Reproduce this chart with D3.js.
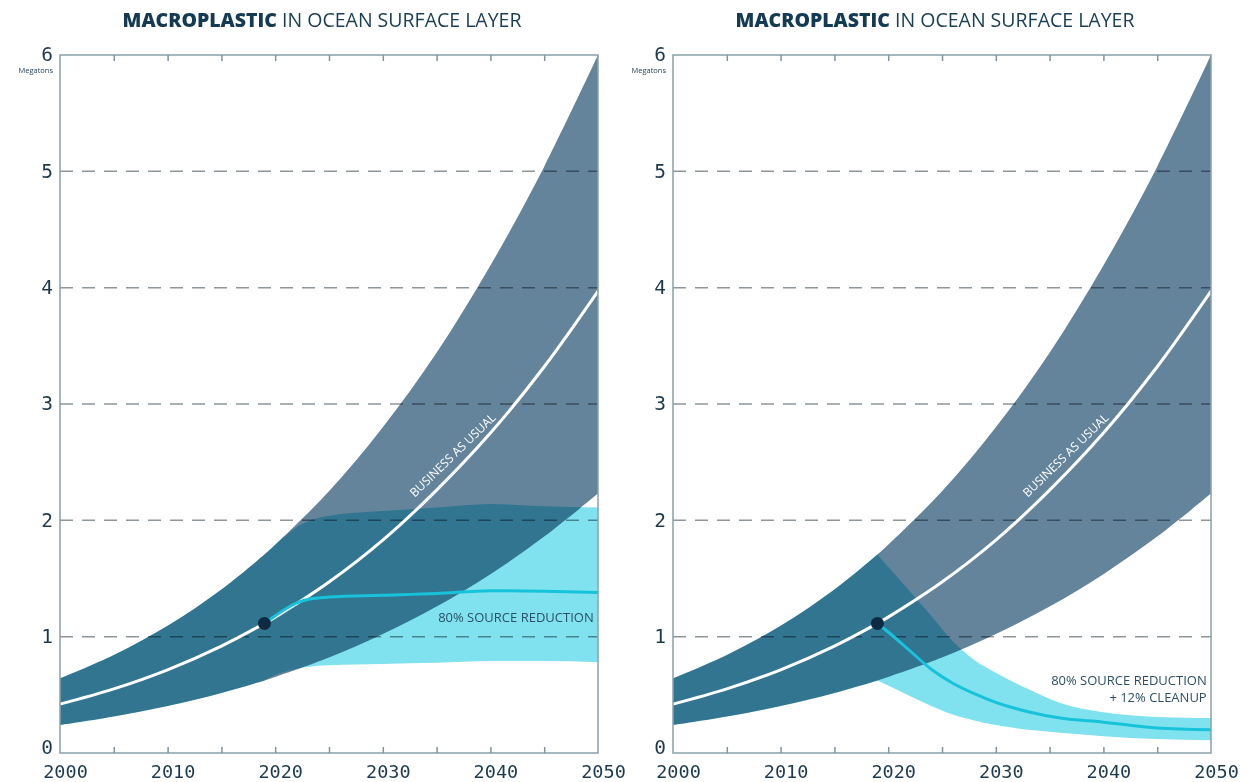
<!DOCTYPE html>
<html>
<head>
<meta charset="utf-8">
<script src="https://cdn.jsdelivr.net/npm/d3@7"></script>
<style>
  html, body { margin: 0; padding: 0; background: #fff; }
  svg { display: block; }
  .tick-label text { font-family: "DejaVu Sans Mono", monospace; fill: #1b3a50; }
</style>
</head>
<body>
<div id="chart"></div>
<script>
// Business as usual band (shared by both panels)
const bauYears = [2000, 2005, 2010, 2015, 2019, 2020, 2025, 2030, 2035, 2040, 2045, 2050];
const bauLow   = [0.24, 0.313, 0.404, 0.516, 0.624, 0.654, 0.821, 1.022, 1.259, 1.537, 1.86, 2.23];
const bauMid   = [0.42, 0.551, 0.715, 0.919, 1.114, 1.168, 1.47, 1.83, 2.26, 2.75, 3.32, 3.97];
const bauHigh  = [0.64, 0.842, 1.094, 1.406, 1.706, 1.79, 2.25, 2.80, 3.44, 4.19, 5.04, 6.00];

// 80% source reduction (left panel)
const srYears = [2019, 2020, 2021, 2022, 2023, 2025, 2030, 2035, 2040, 2045, 2050];
const srLow   = [0.624, 0.67, 0.70, 0.725, 0.74, 0.755, 0.765, 0.775, 0.79, 0.79, 0.78];
const srMid   = [1.114, 1.18, 1.24, 1.29, 1.32, 1.34, 1.355, 1.37, 1.395, 1.39, 1.38];
const srHigh  = [1.706, 1.79, 1.87, 1.94, 1.99, 2.04, 2.08, 2.11, 2.14, 2.12, 2.11];

// 80% source reduction + 12% cleanup (right panel)
const clYears = [2019, 2020, 2022, 2024, 2026, 2028, 2030, 2033, 2036, 2040, 2045, 2050];
const clLow   = [0.624, 0.58, 0.49, 0.405, 0.33, 0.28, 0.24, 0.20, 0.175, 0.145, 0.12, 0.11];
const clMid   = [1.114, 1.04, 0.88, 0.72, 0.60, 0.51, 0.435, 0.355, 0.30, 0.265, 0.215, 0.20];
const clHigh  = [1.706, 1.60, 1.39, 1.18, 0.96, 0.80, 0.69, 0.55, 0.43, 0.35, 0.31, 0.30];

const yTicks = [0, 1, 2, 3, 4, 5, 6];
const yearTicks = [2000, 2010, 2020, 2030, 2040, 2050];
const minorYears = [2005, 2010, 2015, 2020, 2025, 2030, 2035, 2040, 2045];
const startYear = 2019;

const width = 1249, height = 782;
const plotTop = 55, plotBottom = 753, plotW = 538;

const svg = d3.select('#chart').append('svg')
    .attr('width', width)
    .attr('height', height);

function rows(years, lo, mid, hi) {
    return years.map((yr, i) => ({ year: yr, lo: lo[i], mid: mid[i], hi: hi[i] }));
}

function drawPanel(id, left, scen, labelLines, labelY) {
    const x = d3.scaleLinear().domain([2000, 2050]).range([left, left + plotW]);
    const y = d3.scaleLinear().domain([0, 6]).range([plotBottom, plotTop]);
    const g = svg.append('g');

    const bau = rows(bauYears, bauLow, bauMid, bauHigh);

    const area = d3.area()
        .x(d => x(d.year))
        .y0(d => y(d.lo))
        .y1(d => y(d.hi));
    const line = d3.line()
        .x(d => x(d.year))
        .y(d => y(d.mid));

    // history part: BAU band clipped at start year
    g.append('clipPath').attr('id', 'hist-' + id)
        .append('rect')
        .attr('x', x(2000)).attr('y', plotTop)
        .attr('width', x(startYear) - x(2000) + 1)
        .attr('height', plotBottom - plotTop);

    g.append('path')
        .attr('d', area.curve(d3.curveCatmullRom)(bau))
        .attr('fill', '#80e2ef')
        .attr('clip-path', `url(#hist-${id})`);

    g.append('path')
        .attr('d', area.curve(d3.curveMonotoneX)(scen))
        .attr('fill', '#80e2ef');

    g.append('path')
        .attr('d', area.curve(d3.curveCatmullRom)(bau))
        .attr('fill', '#64849b')
        .style('mix-blend-mode', 'multiply');

    // dashed grid
    g.selectAll('.grid')
        .data(yTicks.filter(v => v > 0 && v < 6))
        .enter().append('line')
        .attr('x1', x(2000)).attr('x2', x(2050))
        .attr('y1', d => y(d)).attr('y2', d => y(d))
        .attr('stroke', '#8d969b')
        .attr('stroke-width', 1.5)
        .attr('stroke-dasharray', '13,9')
        .style('mix-blend-mode', 'multiply');

    // lines
    g.append('path')
        .attr('d', line.curve(d3.curveCatmullRom)(bau))
        .attr('fill', 'none')
        .attr('stroke', '#fff')
        .attr('stroke-width', 3);

    g.append('path')
        .attr('d', line.curve(d3.curveMonotoneX)(scen))
        .attr('fill', 'none')
        .attr('stroke', '#17c3da')
        .attr('stroke-width', 3);

    const iStart = bauYears.indexOf(startYear);
    g.append('circle')
        .attr('cx', x(startYear))
        .attr('cy', y(bauMid[iStart]))
        .attr('r', 6.5)
        .attr('fill', '#0e2b45');

    // frame
    g.append('rect')
        .attr('x', x(2000)).attr('y', y(6))
        .attr('width', plotW).attr('height', plotBottom - plotTop)
        .attr('fill', 'none')
        .attr('stroke', '#8aa0ab')
        .attr('stroke-width', 1.5);

    // inner ticks top & bottom
    g.append('g')
        .attr('transform', `translate(0,${plotTop})`)
        .call(d3.axisBottom(x).tickValues(minorYears).tickSize(6).tickFormat(''))
        .call(a => a.select('.domain').remove())
        .call(a => a.selectAll('line').attr('stroke', '#7f949f').attr('stroke-width', 1.5));
    g.append('g')
        .attr('transform', `translate(0,${plotBottom})`)
        .call(d3.axisTop(x).tickValues(minorYears).tickSize(6).tickFormat(''))
        .call(a => a.select('.domain').remove())
        .call(a => a.selectAll('line').attr('stroke', '#7f949f').attr('stroke-width', 1.5));

    // year labels
    g.append('g')
        .attr('class', 'tick-label')
        .attr('transform', `translate(5,${plotBottom + 9})`)
        .call(d3.axisBottom(x).tickValues(yearTicks).tickSize(0).tickFormat(d3.format('d')))
        .call(a => a.select('.domain').remove())
        .call(a => a.selectAll('text').attr('font-size', 18.5).attr('dy', '0.71em'));

    // value labels
    g.append('g')
        .attr('class', 'tick-label')
        .attr('transform', `translate(${left - 7},0)`)
        .call(d3.axisLeft(y).tickValues(yTicks).tickSize(0).tickFormat(d3.format('d')))
        .call(a => a.select('.domain').remove())
        .call(a => a.selectAll('text').attr('font-size', 19.5).attr('x', 0)
            .attr('dy', d => d === 0 ? '0.02em' : '0.3em'));

    g.append('text')
        .attr('x', left - 7)
        .attr('y', plotTop + 18)
        .attr('text-anchor', 'end')
        .attr('font-family', 'Open Sans, sans-serif')
        .attr('font-size', 7.5)
        .attr('fill', '#1d3d55')
        .text('Megatons');

    // title
    const t = g.append('text')
        .attr('x', left + plotW / 2 - 7)
        .attr('y', 27)
        .attr('text-anchor', 'middle')
        .attr('font-family', 'Open Sans, sans-serif')
        .attr('font-size', 19.5)
        .attr('fill', '#1a4059');
    t.append('tspan').attr('font-weight', 800).attr('fill', '#143a54').text('MACROPLASTIC');
    t.append('tspan').text(' IN OCEAN SURFACE LAYER');

    // BAU label along line
    g.append('text')
        .attr('transform', `translate(${x(2036.5)},${y(2.56)}) rotate(-44)`)
        .attr('text-anchor', 'middle')
        .attr('dy', '0.35em')
        .attr('font-family', 'Open Sans, sans-serif')
        .attr('font-size', 12)
        .attr('fill', '#fff')
        .text('BUSINESS AS USUAL');

    // scenario label
    labelLines.forEach((s, i) => {
        g.append('text')
            .attr('x', x(2049.6))
            .attr('y', labelY + i * 17)
            .attr('text-anchor', 'end')
            .attr('font-family', 'Open Sans, sans-serif')
            .attr('font-size', 13)
            .attr('fill', '#2c5068')
            .text(s);
    });
}

drawPanel('a', 60, rows(srYears, srLow, srMid, srHigh), ['80% SOURCE REDUCTION'], 622);
drawPanel('b', 673, rows(clYears, clLow, clMid, clHigh), ['80% SOURCE REDUCTION', '+ 12% CLEANUP'], 685);
</script>
</body>
</html>
